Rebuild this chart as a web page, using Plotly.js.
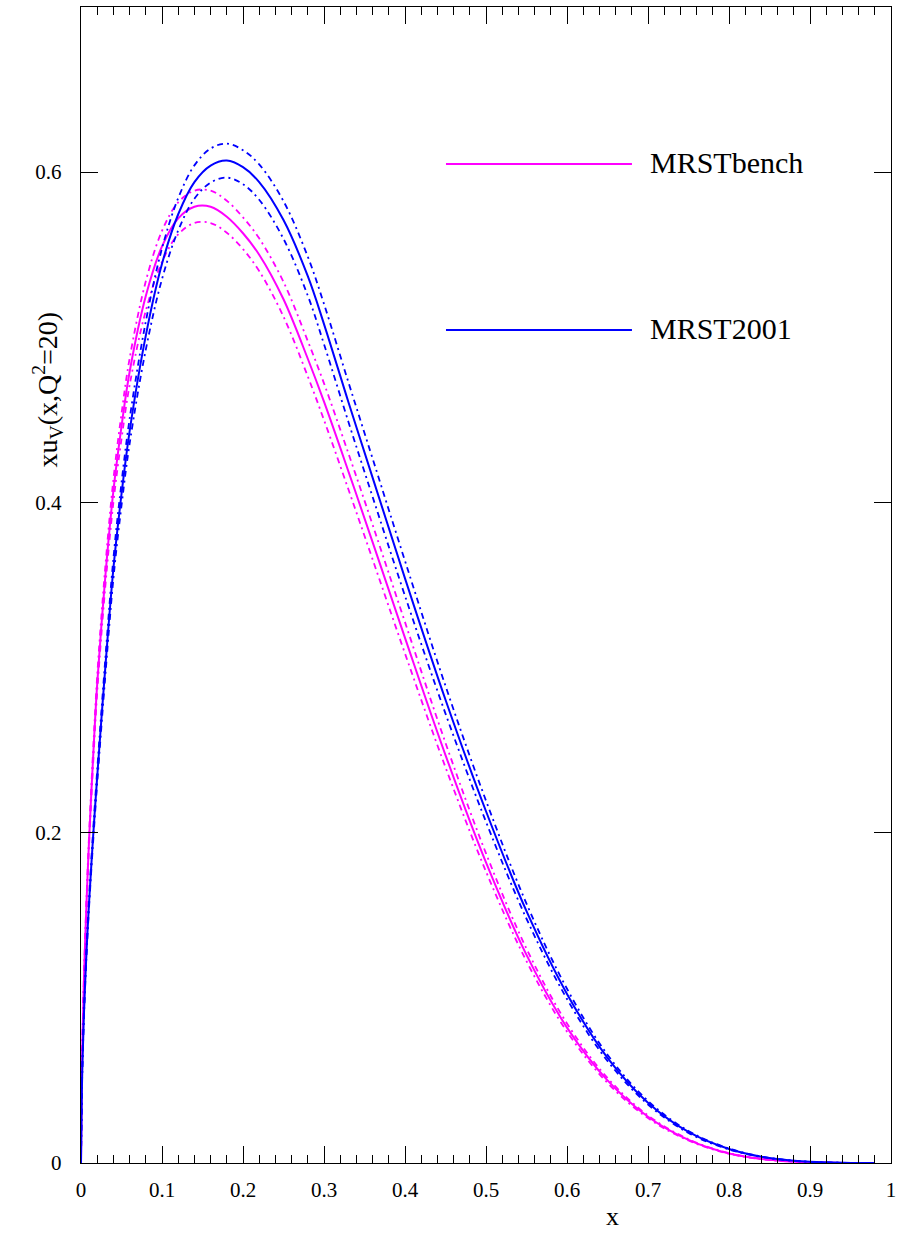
<!DOCTYPE html>
<html>
<head>
<meta charset="utf-8">
<script src="https://cdn.plot.ly/plotly-3.0.1.min.js"></script>
<style>
  html, body { margin: 0; padding: 0; background: #fff; }
  #plot { width: 905px; height: 1233px; }
</style>
</head>
<body>
<div id="plot"></div>
<script>
// Momentum fraction x
const xValues = [0, 0.001, 0.002, 0.004, 0.007, 0.01, 0.015, 0.02, 0.03, 0.04, 0.05, 0.06, 0.08,
  0.10, 0.12, 0.14, 0.16, 0.18, 0.20, 0.22, 0.25, 0.28, 0.30, 0.33, 0.36, 0.40, 0.45, 0.50,
  0.55, 0.60, 0.65, 0.70, 0.75, 0.80, 0.85, 0.90, 0.95, 0.98];

// x u_v(x, Q^2 = 20) -- MRSTbench central and error curves
const benchCentral = [0, 0.050, 0.078, 0.117, 0.160, 0.196, 0.246, 0.290, 0.355, 0.407, 0.446, 0.479, 0.525,
  0.555, 0.572, 0.579, 0.579, 0.573, 0.563, 0.550, 0.523, 0.487, 0.461, 0.419, 0.376, 0.318, 0.247, 0.182,
  0.126, 0.082, 0.050, 0.028, 0.014, 0.0058, 0.0019, 0.0004, 0.00002, 0];
const benchUpper = [0, 0.0509, 0.0793, 0.119, 0.1627, 0.1993, 0.2502, 0.2949, 0.3610, 0.4139, 0.4536, 0.4871, 0.5339,
  0.5644, 0.5817, 0.5888, 0.5888, 0.5827, 0.5726, 0.5599, 0.5335, 0.4977, 0.4721, 0.4299, 0.3865, 0.3275, 0.2544, 0.1875,
  0.1298, 0.0845, 0.0515, 0.0288, 0.0144, 0.0060, 0.0020, 0.0004, 0.00002, 0];
const benchLower = [0, 0.0492, 0.0767, 0.115, 0.1573, 0.1927, 0.2418, 0.2851, 0.3490, 0.4001, 0.4384, 0.4709, 0.5161,
  0.5456, 0.5623, 0.5692, 0.5692, 0.5633, 0.5534, 0.5401, 0.5125, 0.4763, 0.4499, 0.4081, 0.3655, 0.3085, 0.2396, 0.1765,
  0.1222, 0.0795, 0.0485, 0.0272, 0.0136, 0.0056, 0.0018, 0.0004, 0.00002, 0];

// x u_v(x, Q^2 = 20) -- MRST2001 central and error curves
const mrstCentral = [0, 0.042, 0.064, 0.095, 0.130, 0.158, 0.198, 0.234, 0.300, 0.360, 0.405, 0.443, 0.501,
  0.5445, 0.5745, 0.594, 0.604, 0.607, 0.603, 0.594, 0.571, 0.537, 0.508, 0.461, 0.415, 0.354, 0.2805, 0.213,
  0.1525, 0.1024, 0.0637, 0.0365, 0.0188, 0.0085, 0.0030, 0.0007, 0.00005, 0];
const mrstUpper = [0, 0.0427, 0.0651, 0.0966, 0.1322, 0.1607, 0.2014, 0.2380, 0.3051, 0.3661, 0.4119, 0.4505, 0.5095,
  0.5538, 0.5843, 0.6041, 0.6143, 0.6173, 0.6133, 0.6047, 0.5824, 0.5488, 0.5202, 0.4730, 0.4266, 0.3646, 0.2889, 0.2194,
  0.1571, 0.1055, 0.0656, 0.0376, 0.0194, 0.0088, 0.0031, 0.0007, 0.00005, 0];
const mrstLower = [0, 0.0413, 0.0629, 0.0934, 0.1278, 0.1553, 0.1946, 0.2300, 0.2949, 0.3539, 0.3981, 0.4355, 0.4925,
  0.5352, 0.5647, 0.5839, 0.5937, 0.5967, 0.5927, 0.5833, 0.5596, 0.5252, 0.4958, 0.4490, 0.4034, 0.3434, 0.2721, 0.2066,
  0.1479, 0.0993, 0.0618, 0.0354, 0.0182, 0.0082, 0.0029, 0.0007, 0.00005, 0];

const seriesNames = ['MRSTbench', 'MRST2001'];
const xTickValues = [0, 0.1, 0.2, 0.3, 0.4, 0.5, 0.6, 0.7, 0.8, 0.9, 1];
const xTickLabels = ['0', '0.1', '0.2', '0.3', '0.4', '0.5', '0.6', '0.7', '0.8', '0.9', '1'];
const yTickValues = [0, 0.2, 0.4, 0.6];
const yTickLabels = ['0', '0.2', '0.4', '0.6'];

const MAGENTA = '#ff00ff';
const BLUE = '#0000ff';
const SERIF = '"Liberation Serif", "Times New Roman", serif';
const DASHDOT = '6px,4px,2px,4px';

function curve(y, color, dash, width) {
  return {
    x: xValues, y: y, type: 'scatter', mode: 'lines',
    line: { color: color, width: width, dash: dash, shape: 'spline', smoothing: 1.0 },
    hoverinfo: 'skip', showlegend: false
  };
}

const traces = [
  curve(benchUpper, MAGENTA, DASHDOT, 1.8),
  curve(benchLower, MAGENTA, DASHDOT, 1.8),
  curve(benchCentral, MAGENTA, 'solid', 2),
  curve(mrstUpper, BLUE, DASHDOT, 1.8),
  curve(mrstLower, BLUE, DASHDOT, 1.8),
  curve(mrstCentral, BLUE, 'solid', 2)
];

const axisCommon = {
  showgrid: false, zeroline: false,
  showline: true, linecolor: '#000', linewidth: 1.2, mirror: 'allticks',
  ticks: 'inside', tickcolor: '#000', tickwidth: 1, ticklen: 17,
  tickfont: { family: SERIF, size: 21, color: '#000' }
};

const layout = {
  width: 905, height: 1233,
  margin: { l: 81, r: 14, t: 7, b: 70 },
  paper_bgcolor: '#fff', plot_bgcolor: '#fff',
  showlegend: false,
  xaxis: Object.assign({}, axisCommon, {
    range: [0, 1], tickmode: 'array', tickvals: xTickValues, ticktext: xTickLabels,
    ticklabelstandoff: 8,
    minor: { dtick: 0.02, ticks: 'inside', ticklen: 8, tickcolor: '#000', tickwidth: 1 }
  }),
  yaxis: Object.assign({}, axisCommon, {
    range: [0, 0.7], tickmode: 'array', tickvals: yTickValues, ticktext: yTickLabels,
    ticklabelstandoff: 14
  }),
  shapes: [
    { type: 'line', xref: 'paper', yref: 'paper', x0: 0.4506, x1: 0.6802, y0: 0.8642, y1: 0.8642,
      line: { color: MAGENTA, width: 2 } },
    { type: 'line', xref: 'paper', yref: 'paper', x0: 0.4506, x1: 0.6802, y0: 0.7206, y1: 0.7206,
      line: { color: BLUE, width: 2 } }
  ],
  annotations: [
    { text: seriesNames[0], xref: 'paper', yref: 'paper', x: 0.70, y: 0.8651, xanchor: 'left', yanchor: 'middle',
      showarrow: false, font: { family: SERIF, size: 30, color: '#000' } },
    { text: seriesNames[1], xref: 'paper', yref: 'paper', x: 0.70, y: 0.7215, xanchor: 'left', yanchor: 'middle',
      showarrow: false, font: { family: SERIF, size: 30, color: '#000' } },
    { text: 'x', xref: 'paper', yref: 'paper', x: 0.6556, y: -0.0465, xanchor: 'center', yanchor: 'middle',
      showarrow: false, font: { family: SERIF, size: 26, color: '#000' } },
    { text: 'xu<sub>V</sub>(x,Q<sup>2</sup>=20)', xref: 'paper', yref: 'paper', x: -0.041, y: 0.669,
      xanchor: 'center', yanchor: 'middle', textangle: -90,
      showarrow: false, font: { family: SERIF, size: 28, color: '#000' } }
  ]
};

Plotly.newPlot('plot', traces, layout, { staticPlot: true, displayModeBar: false });
</script>
</body>
</html>
